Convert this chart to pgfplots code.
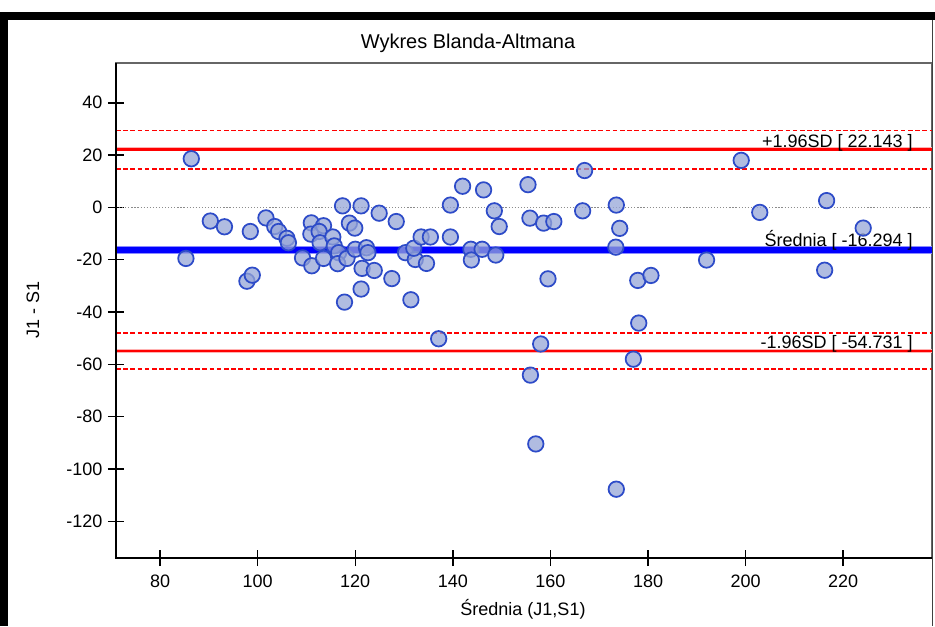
\documentclass[border=0pt]{standalone}
\usepackage{fontspec}
\setmainfont{Liberation Sans}
\usepackage{pgfplots}
\pgfplotsset{compat=1.18}
\definecolor{mfill}{RGB}{150,165,215}
\definecolor{medge}{RGB}{45,75,200}
\definecolor{zgray}{RGB}{140,140,140}
\definecolor{dred}{RGB}{255,0,0}
\begin{document}
\begin{tikzpicture}
\begin{axis}[
  at={(0,0)}, anchor=south west,
  scale only axis, width=612pt, height=371.25pt,
  xmin=70.97, xmax=238.2, ymin=-134.0, ymax=55.2,
  xtick={80,100,...,220}, ytick={-120,-100,...,40},
  xtick pos=bottom, ytick pos=left,
  tick align=center, major tick length=12pt,
  tick style={black, line width=1.1pt},
  axis line style={draw=black!60, line width=0.8pt},
  /pgf/number format/assume math mode=true,
  ticklabel style={font=\fontsize{13.5pt}{16pt}\selectfont, inner sep=0pt},
  xticklabel shift=6.75pt, yticklabel shift=4pt,
  clip=true,
]
\addplot[only marks, mark=*, mark size=5.8pt,
  mark options={fill=mfill, fill opacity=0.75, draw=medge, line width=1.3pt}]
  table[row sep=\\] {
x y\\
86.4 18.6\\ 85.3 -19.5\\ 90.3 -5.2\\ 93.2 -7.4\\ 98.5 -9.2\\ 97.8 -28.2\\
98.9 -25.9\\ 101.7 -4.0\\ 103.5 -7.3\\ 104.3 -9.2\\ 106.0 -11.8\\ 106.3 -13.5\\
109.2 -19.3\\ 111.1 -22.3\\ 111.0 -5.9\\ 110.9 -10.2\\ 113.5 -7.0\\ 112.6 -9.2\\
112.8 -13.5\\ 115.4 -11.3\\ 115.7 -14.7\\ 113.5 -19.5\\ 116.6 -17.3\\ 116.4 -21.5\\
118.3 -19.5\\ 117.4 0.6\\ 118.8 -6.0\\ 119.9 -7.9\\ 117.8 -36.2\\ 121.2 0.6\\
120.0 -16.0\\ 122.3 -15.4\\ 122.6 -17.3\\ 121.4 -23.3\\ 121.2 -31.2\\ 123.9 -24.1\\
124.9 -2.2\\ 128.4 -5.4\\ 127.5 -27.2\\ 130.3 -17.3\\ 132.3 -19.9\\ 132.0 -15.6\\
131.4 -35.3\\ 133.5 -11.3\\ 135.4 -11.3\\ 134.6 -21.4\\ 139.5 -11.3\\ 139.5 0.9\\
142.0 8.1\\ 143.7 -16.0\\ 143.8 -20.1\\ 146.0 -16.0\\ 146.3 6.7\\ 148.5 -1.3\\
149.5 -7.3\\ 148.8 -18.2\\ 137.1 -50.2\\ 155.4 8.7\\ 155.8 -4.1\\ 158.6 -6.0\\
160.7 -5.4\\ 159.5 -27.3\\ 158.0 -52.2\\ 155.9 -64.1\\ 157.0 -90.4\\ 167.0 14.1\\
166.6 -1.3\\ 173.5 0.9\\ 174.2 -8.0\\ 173.4 -15.2\\ 173.5 -107.7\\ 177.9 -27.9\\
180.6 -26.0\\ 178.1 -44.2\\ 177.0 -58.0\\ 192.0 -20.1\\ 199.1 18.0\\ 202.9 -1.9\\
216.6 2.6\\ 216.2 -24.0\\ 224.1 -7.9\\
};
% zero line
\addplot[zgray, line width=0.8pt, dash pattern=on 0.9pt off 1.4pt] coordinates {(70.97,0) (238.2,0)};
% CI dashed lines
\addplot[dred, line width=1.3pt, dash pattern=on 3.4pt off 2pt] coordinates {(70.97,29.4) (238.2,29.4)};
\addplot[dred, line width=1.3pt, dash pattern=on 3.4pt off 2pt] coordinates {(70.97,14.8) (238.2,14.8)};
\addplot[dred, line width=1.3pt, dash pattern=on 3.4pt off 2pt] coordinates {(70.97,-48.1) (238.2,-48.1)};
\addplot[dred, line width=1.3pt, dash pattern=on 3.4pt off 2pt] coordinates {(70.97,-61.7) (238.2,-61.7)};
% limits of agreement
\addplot[red!30, line width=3pt] coordinates {(70.97,22.143) (238.2,22.143)};
\addplot[dred, line width=1.6pt] coordinates {(70.97,22.143) (238.2,22.143)};
\addplot[red!30, line width=3pt] coordinates {(70.97,-54.731) (238.2,-54.731)};
\addplot[dred, line width=1.6pt] coordinates {(70.97,-54.731) (238.2,-54.731)};
% mean
\addplot[blue!45, line width=5.6pt] coordinates {(70.97,-16.294) (238.2,-16.294)};
\addplot[blue, line width=4.4pt] coordinates {(70.97,-16.294) (238.2,-16.294)};
\node[anchor=base east, inner sep=0pt, yshift=1.7pt, font=\fontsize{13.5pt}{16pt}\selectfont] at (axis cs:234.3,22.143) {+1.96SD [ 22.143 ]};
\node[anchor=base east, inner sep=0pt, yshift=2.9pt, font=\fontsize{13.5pt}{16pt}\selectfont] at (axis cs:234.3,-16.294) {Średnia [ -16.294 ]};
\node[anchor=base east, inner sep=0pt, yshift=1.5pt, font=\fontsize{13.5pt}{16pt}\selectfont] at (axis cs:234.3,-54.731) {-1.96SD [ -54.731 ]};
\end{axis}
\begin{scope}[shift={(-87pt,418.5pt)}, x=0.75pt, y=-0.75pt]
  \draw[black, line width=1.2pt] (116,63) -- (116,558) -- (932,558);
  \node[font=\fontsize{15pt}{18pt}\selectfont] at (468,43) {Wykres Blanda-Altmana};
  \node[font=\fontsize{13.5pt}{16pt}\selectfont] at (523,609) {Średnia (J1,S1)};
  \node[font=\fontsize{13.5pt}{16pt}\selectfont, rotate=90] at (33,310) {J1 - S1};
  \fill[black] (0,12) rectangle (935,20);
  \fill[black] (0,12) rectangle (8,626);
  \draw[black!75, line width=1.2pt] (932.5,20) -- (932.5,626);
  \pgfresetboundingbox
  \path (0,0) rectangle (935,626);
\end{scope}
\end{tikzpicture}
\end{document}
